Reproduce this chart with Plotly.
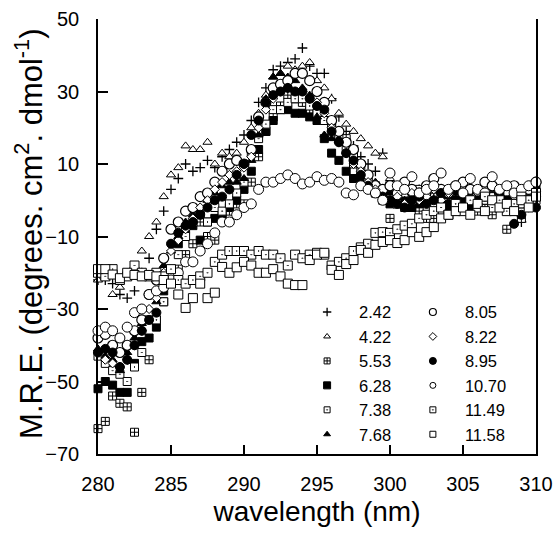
import plotly.graph_objects as go

# wavelength grid (nm)
wavelength = [280.0, 280.5, 281.0, 281.5, 282.0, 282.5, 283.0, 283.5, 284.0, 284.5,
              285.0, 285.5, 286.0, 286.5, 287.0, 287.5, 288.0, 288.5, 289.0, 289.5,
              290.0, 290.5, 291.0, 291.5, 292.0, 292.5, 293.0, 293.5, 294.0, 294.5,
              295.0, 295.5, 296.0, 296.5, 297.0, 297.5, 298.0, 298.5, 299.0, 299.5,
              300.0, 300.5, 301.0, 301.5, 302.0, 302.5, 303.0, 303.5, 304.0, 304.5,
              305.0, 305.5, 306.0, 306.5, 307.0, 307.5, 308.0, 308.5, 309.0, 309.5,
              310.0]

labels = ["2.42", "4.22", "5.53", "6.28", "7.38", "7.68",
          "8.05", "8.22", "8.95", "10.70", "11.49", "11.58"]

mre_242 = [-22, -22, -23, -26, -27, -25, -20, -16, -8, -3,
           3, 6, 10, 8, 9, 11, 9, 12, 14, 16,
           18, 22, 27, 31, 36, 37, 38, 39, 42, 37,
           35, 35, 28, 23, 19, 15, 12, 10, 8, 13,
           5, 3, 2, 1, 3, 0, 2, -1, 1, 2,
           0, 3, 1, -1, 2, 0, 1, -2, -6, 0,
           2]
mre_422 = [-22, -21, -26, -24, -20, -18, -14, -10, -6, 1,
           7, 9, 15, 14, 14, 16, 10, 13, 12, 13,
           16, 20, 24, 29, 34, 35, 37, 36, 37, 38,
           33, 31, 28, 24, 21, 19, 17, 15, 13, 12,
           6, 4, 2, 3, 1, 2, 0, 1, 3, 2,
           -1, 2, 0, 1, 3, 1, 2, 0, 1, 2,
           3]
mre_553 = [-63, -61, -54, -56, -57, -64, -53, -44, -33, -28,
           -22, -19, -15, -12, -6, -10, -11, -5, -3, -1,
           -1, 5, 12, 19, 23, 26, 29, 28, 27, 25,
           24, 22, 20, 17, 17, 10, 6, 5, 2, 0,
           -5, -1, -2, -1, -3, -5, -5, -2, -1, -3,
           0, -2, -3, -1, -4, -2, -8, -3, -5, -2,
           0]
mre_628 = [-52, -50, -51, -53, -53, -45, -39, -38, -35, -25,
           -20, -12, -8, -7, -11, -6, -5, -4, -2, 0,
           3, 8, 14, 19, 22, 25, 25, 24, 24, 23,
           22, 17, 13, 11, 8, 6, 5, 4, 2, 1,
           -1, 0, 1, -2, -1, 0, -3, 1, -2, 0,
           -1, 2, -1, 0, -2, 1, 0, -3, -1, 0,
           4]
mre_738 = [-43, -45, -47, -48, -50, -46, -42, -33, -33, -28,
           -20, -15, -10, -6, -4, -6, -2, -3, -1, 2,
           5, 13, 17, 21, 25, 25, 27, 28, 28, 26,
           24, 22, 20, 17, 14, 12, 8, 5, 4, 2,
           1, -1, 2, 0, 3, 1, -2, 2, 0, 3,
           1, -1, 2, 0, 1, 3, 0, 2, -1, 1,
           2]
mre_768 = [-41, -43, -44, -47, -42, -38, -34, -30, -28, -18,
           -14, -10, -6, -4, -3, 0, 2, 4, 5, 5,
           6, 11, 18, 28, 34, 35, 34, 33, 31, 29,
           23, 18, 17, 17, 16, 14, 10, 7, 5, 3,
           2, 1, 0, 2, -1, 1, 0, -2, 1, 2,
           0, -1, 1, 2, 0, 1, -1, 2, 0, 1,
           2]
mre_805 = [-38, -37, -40, -42, -40, -36, -33, -26, -22, -16,
           -8, -6, -3, -2, 1, 2, 5, 8, 10, 11,
           10, 14, 23, 27, 31, 32, 33, 35, 35, 33,
           30, 27, 22, 19, 16, 14, 10, 7, 4, 3,
           4, 2, 5, 3, 2, 4, 6, 3, 2, 4,
           5, 3, 2, 5, 4, 2, 3, 4, 2, 3,
           5]
mre_822 = [-42, -44, -45, -46, -44, -40, -36, -30, -27, -20,
           -14, -11, -8, -5, -2, 0, 3, 5, 7, 8,
           9, 12, 20, 25, 28, 30, 31, 30, 30, 28,
           27, 24, 20, 16, 13, 10, 8, 5, 3, 1,
           0, 1, -1, 2, 0, 1, 3, 0, 2, -1,
           1, 0, 2, 1, -1, 0, 2, 1, 0, -2,
           1]
mre_895 = [-42, -41, -42, -46, -44, -40, -36, -33, -31, -22,
           -12, -9, -7, -6, -4, -2, 0, 1, 3, 7,
           10, 18, 22, 27, 29, 30, 31, 30, 30, 28,
           26, 25, 19, 16, 13, 11, 7, 4, 2, 1,
           0, -1, -2, 0, 1, -1, 0, 2, -1, 0,
           1, -2, 0, 1, -1, 2, 0, -6.5, -4, 0,
           -2]
mre_1070 = [-36, -35, -36, -38, -35, -31, -30, -26, -25, -24,
            -22, -20, -17, -17, -14, -12, -9, -6, -6, -4,
            -2, -1, 3, 5, 5, 6, 7, 6, 4.5, 5,
            6.5, 5.5, 6, 5, 2, 1.5, 4, 3, 2, 0,
            7.5, 4, 3, 6.5, 2, 3, 4, 7.5, 3, 4,
            2, 6, 3, 2, 6.5, 3, 4, 2, 3, 4,
            5]
mre_1149 = [-20, -21, -19, -22, -21, -18, -20, -21, -20, -21,
            -19, -22, -23, -22, -21, -20, -17, -15, -14, -14,
            -14, -15, -14, -15, -15, -16, -18, -15, -16, -15,
            -14.5, -15, -18, -17, -16, -14, -13, -12, -9, -8.8,
            -9, -8, -7, -6.5, -5, -4, -3, -2, -4, -1,
            -3, 0, -2, 1, -2, 0, -3, -1, 1, 0,
            2]
mre_1158 = [-19, -19, -20.5, -21.5, -20, -20.6, -21, -20.6, -21, -22,
            -23, -26, -29.7, -27, -23, -27, -25.5, -18.4, -20, -18.5,
            -17, -18, -20, -20, -19, -21, -23, -23.4, -23.4, -16.5,
            -15, -14.5, -19.2, -20.6, -17.6, -16.5, -13.7, -14.5, -12.3, -11.5,
            -11, -11.8, -11, -8.8, -10.1, -8.8, -7.4, -5, -4, -3,
            -2, -4, -1, -3, 0, -2, -1, -3, 0, -2,
            1]

series = [mre_242, mre_422, mre_553, mre_628, mre_738, mre_768,
          mre_805, mre_822, mre_895, mre_1070, mre_1149, mre_1158]

K = "black"
W = "white"
styles = [
    dict(symbol="cross-thin", size=7, color=K, line=dict(color=K, width=1.3)),
    dict(symbol="triangle-up", size=8, color=W, line=dict(color=K, width=1)),
    dict(symbol="square-cross", size=8, color=W, line=dict(color=K, width=1)),
    dict(symbol="square", size=8, color=K, line=dict(color=K, width=1)),
    dict(symbol="square-dot", size=8, color=W, line=dict(color=K, width=1)),
    dict(symbol="triangle-up", size=8, color=K, line=dict(color=K, width=1)),
    dict(symbol="circle", size=10, color=W, line=dict(color=K, width=1.2)),
    dict(symbol="diamond", size=7, color=W, line=dict(color=K, width=1)),
    dict(symbol="circle", size=9, color=K, line=dict(color=K, width=1)),
    dict(symbol="circle", size=10, color=W, line=dict(color=K, width=1)),
    dict(symbol="square-dot", size=9, color=W, line=dict(color=K, width=1)),
    dict(symbol="square", size=9, color=W, line=dict(color=K, width=1)),
]
legend_sizes = [6, 6, 6, 7, 6, 6, 7, 6, 7, 6, 6, 6]

fig = go.Figure()
for lab, ys, st in zip(labels, series, styles):
    fig.add_trace(go.Scatter(x=wavelength, y=ys, mode="markers", name=lab,
                             marker=st, showlegend=False, cliponaxis=False))

for i, (lab, st) in enumerate(zip(labels, styles)):
    m = dict(st)
    m["size"] = legend_sizes[i]
    fig.add_trace(go.Scatter(x=[None], y=[None], mode="markers", name=lab,
                             marker=m, legend="legend" if i < 6 else "legend2"))

FONT = "Liberation Sans, Arial, Helvetica, sans-serif"
leg_common = dict(bgcolor="rgba(0,0,0,0)", borderwidth=0, yanchor="top",
                  xanchor="left", font=dict(size=16.5, family=FONT, color=K),
                  orientation="v", itemwidth=54)
fig.update_layout(
    width=558, height=538,
    margin=dict(l=98, r=22, t=19, b=84, autoexpand=False),
    plot_bgcolor=W, paper_bgcolor=W,
    font=dict(family=FONT, color=K),
    legend=dict(x=0.450, y=0.366, **leg_common),
    legend2=dict(x=0.6915, y=0.366, **leg_common),
    xaxis=dict(range=[280, 310], tickvals=[280, 285, 290, 295, 300, 305, 310],
               ticks="inside", ticklen=9, tickwidth=1.5, tickcolor=K,
               showline=True, linecolor=K, linewidth=1.5, mirror=False,
               showgrid=False, zeroline=False, tickfont=dict(size=20),
               ticklabelstandoff=11, automargin=False,
               title=dict(text="wavelength (nm)", font=dict(size=28), standoff=8)),
    yaxis=dict(range=[-70, 50], tickvals=[-70, -50, -30, -10, 10, 30, 50],
               ticks="inside", ticklen=10, tickwidth=1.5, tickcolor=K,
               showline=True, linecolor=K, linewidth=1.5, mirror=True,
               showgrid=False, zeroline=False, tickfont=dict(size=20),
               ticklabelstandoff=13, automargin=False),
    annotations=[dict(text="M.R.E. (degrees. cm<sup>2</sup>. dmol<sup>-1</sup>)",
                      textangle=-90, xref="paper", yref="paper",
                      x=(29 - 98) / 438, y=0.506, xanchor="center", yanchor="middle",
                      showarrow=False, font=dict(size=31, family=FONT, color=K))],
)

fig.write_html("out.html", config={"displayModeBar": False},
               post_script="document.body.style.margin='0';document.body.style.overflow='hidden';")
